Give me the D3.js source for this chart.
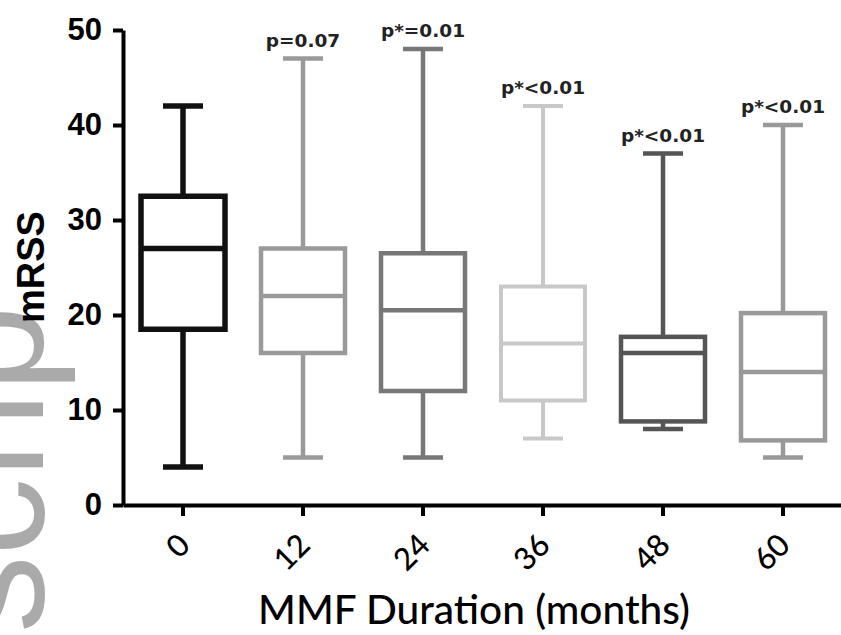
<!DOCTYPE html>
<html>
<head>
<meta charset="utf-8">
<script src="https://cdn.jsdelivr.net/npm/d3@7"></script>
<style>
  body { margin: 0; background: #fff; }
  svg { display: block; }
</style>
</head>
<body>
<div id="vis"></div>
<script>
// ==== DATA ====
const durations = ["0", "12", "24", "36", "48", "60"];
const mins    = [4, 5, 5, 7, 8, 5];
const q1s     = [18.5, 16, 12, 11, 8.8, 6.8];
const medians = [27, 22, 20.5, 17, 16, 14];
const q3s     = [32.5, 27, 26.5, 23, 17.7, 20.2];
const maxs    = [42, 47, 48, 42, 37, 40];
const pLabels = ["", "p=0.07", "p*=0.01", "p*<0.01", "p*<0.01", "p*<0.01"];
const yTicks  = [0, 10, 20, 30, 40, 50];

// box colours per group
const colors = ["#111", "#9a9a9a", "#777", "#c8c8c8", "#555", "#999"];
const widths = [5.5, 4.5, 4.5, 4, 4.5, 4.5];

const width = 841, height = 635;
const svg = d3.select("#vis")
  .append("svg")
  .attr("width", width)
  .attr("height", height);

svg.append("rect").attr("width", width).attr("height", height).attr("fill", "#fff");

// ==== WATERMARK (cropped "Manuscript" stamp) ====
svg.append("text")
  .attr("transform", "translate(43,633) rotate(-90)")
  .style("font-family", "'Liberation Sans', Arial, sans-serif")
  .style("font-size", "155px")
  .attr("fill", "#aaa")
  .text("scrip");

// ==== SCALES ====
const y = d3.scaleLinear().domain([0, 50]).range([505, 30]);
const x = d3.scaleBand().domain(durations).range([123, 843])
  .paddingInner(0.3).paddingOuter(0.15);
const bw = x.bandwidth();
const capW = 40;

// ==== AXES ====
const yAxis = svg.append("g")
  .attr("transform", "translate(123,0)")
  .call(d3.axisLeft(y).tickValues(yTicks).tickSize(10).tickSizeOuter(0).tickPadding(11));
yAxis.select(".domain").attr("stroke", "#000").attr("stroke-width", 4);
yAxis.selectAll(".tick line").attr("stroke", "#000").attr("stroke-width", 4);
yAxis.selectAll(".tick text")
  .style("font-family", "'Liberation Sans', Arial, sans-serif")
  .style("font-weight", "bold")
  .style("font-size", "31px")
  .attr("fill", "#000");

const xAxis = svg.append("g")
  .attr("transform", "translate(0,505)")
  .call(d3.axisBottom(x).tickSize(11).tickSizeOuter(0));
xAxis.select(".domain").attr("stroke", "#000").attr("stroke-width", 4);
xAxis.selectAll(".tick line").attr("stroke", "#000").attr("stroke-width", 4);
xAxis.selectAll(".tick text")
  .attr("y", 0).attr("dy", 0)
  .attr("transform", "translate(9,42) rotate(-45)")
  .attr("text-anchor", "end")
  .style("font-family", "Lato, 'Open Sans', sans-serif")
  .style("font-size", "31px")
  .style("font-weight", "500")
  .attr("fill", "#000");

// ==== BOXES ====
const groups = svg.selectAll("g.box")
  .data(durations)
  .enter()
  .append("g")
  .attr("class", "box")
  .attr("stroke", (d, i) => colors[i])
  .attr("stroke-width", (d, i) => widths[i])
  .attr("fill", "none");

groups.each(function(d, i) {
  const g = d3.select(this);
  const cx = x(d) + bw / 2;
  // whiskers
  g.append("line").attr("x1", cx).attr("x2", cx).attr("y1", y(maxs[i])).attr("y2", y(q3s[i]));
  g.append("line").attr("x1", cx).attr("x2", cx).attr("y1", y(q1s[i])).attr("y2", y(mins[i]));
  g.append("line").attr("x1", cx - capW / 2).attr("x2", cx + capW / 2).attr("y1", y(maxs[i])).attr("y2", y(maxs[i]));
  g.append("line").attr("x1", cx - capW / 2).attr("x2", cx + capW / 2).attr("y1", y(mins[i])).attr("y2", y(mins[i]));
  // box + median
  g.append("rect")
    .attr("x", x(d)).attr("width", bw)
    .attr("y", y(q3s[i])).attr("height", y(q1s[i]) - y(q3s[i]))
    .attr("fill", "#fff");
  g.append("line").attr("x1", x(d)).attr("x2", x(d) + bw).attr("y1", y(medians[i])).attr("y2", y(medians[i]));
});

// ==== P VALUES ====
svg.selectAll("text.pval")
  .data(durations)
  .enter()
  .append("text")
  .attr("class", "pval")
  .attr("x", d => x(d) + bw / 2)
  .attr("y", (d, i) => y(maxs[i]) - 12)
  .attr("text-anchor", "middle")
  .style("font-family", "'DejaVu Sans', Verdana, sans-serif")
  .style("font-weight", "bold")
  .style("font-size", "18.5px")
  .attr("fill", "#222")
  .text((d, i) => pLabels[i]);

// ==== AXIS TITLES ====
svg.append("text")
  .attr("transform", "translate(44,267) rotate(-90)")
  .attr("text-anchor", "middle")
  .style("font-family", "'Liberation Sans', Arial, sans-serif")
  .style("font-weight", "bold")
  .style("font-size", "38px")
  .attr("fill", "#000")
  .text("mRSS");

const xTitle = svg.append("text")
  .attr("x", 474)
  .attr("y", 624)
  .attr("text-anchor", "middle")
  .style("font-family", "Lato, 'Open Sans', sans-serif")
  .style("font-size", "36px")
  .style("font-weight", "500")
  .attr("fill", "#000")
  .text("MMF Duration (months)");
// fit title to the reference width
const tl = xTitle.node().getComputedTextLength();
xTitle.style("font-size", (36 * 432 / tl) + "px");
</script>
</body>
</html>
